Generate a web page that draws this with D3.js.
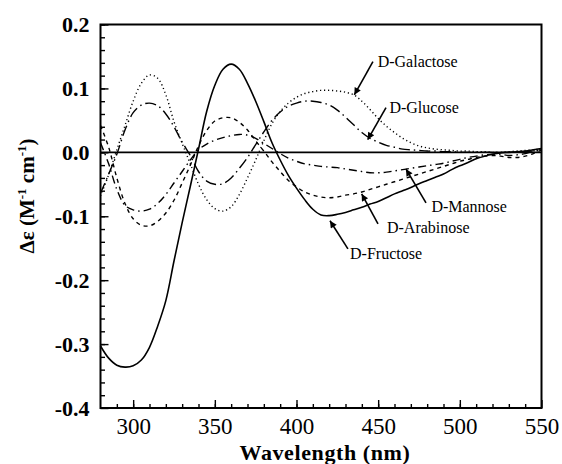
<!DOCTYPE html>
<html>
<head>
<meta charset="utf-8">
<script src="https://cdn.jsdelivr.net/npm/d3@7"></script>
<style>
  body { margin: 0; background: #fff; }
  svg { display: block; }
  text { font-family: "Liberation Serif", "Times New Roman", serif; fill: #000; }
</style>
</head>
<body>
<div id="chart"></div>
<script>
// wavelength grid, 5 nm steps
const wavelengths = d3.range(280, 551, 5);

const fructose = [
  -0.303, -0.322, -0.333, -0.336, -0.334, -0.325, -0.305, -0.272, -0.232, -0.170,
  -0.110, -0.053, 0.005, 0.064, 0.105, 0.130, 0.138, 0.130, 0.108, 0.080,
  0.048, 0.015, -0.012, -0.036, -0.056, -0.074, -0.089, -0.098, -0.099, -0.097,
  -0.094, -0.090, -0.086, -0.081, -0.077, -0.071, -0.065, -0.060, -0.055, -0.049,
  -0.044, -0.039, -0.034, -0.027, -0.021, -0.016, -0.010, -0.006, -0.003, -0.001,
  0.000, 0.001, 0.002, 0.004, 0.006
];
const galactose = [
  -0.068, -0.035, 0.004, 0.042, 0.080, 0.108, 0.121, 0.116, 0.090, 0.048,
  0.014, -0.018, -0.050, -0.074, -0.088, -0.092, -0.085, -0.066, -0.040, -0.012,
  0.018, 0.045, 0.064, 0.077, 0.086, 0.092, 0.095, 0.097, 0.097, 0.096,
  0.094, 0.090, 0.080, 0.067, 0.053, 0.041, 0.031, 0.022, 0.015, 0.010,
  0.007, 0.005, 0.004, 0.003, 0.002, 0.002, 0.001, 0.001, 0.000, 0.000,
  0.001, 0.002, 0.003, 0.004, 0.005
];
const glucose = [
  -0.064, -0.034, -0.003, 0.035, 0.062, 0.074, 0.077, 0.073, 0.060, 0.040,
  0.016, -0.005, -0.030, -0.045, -0.050, -0.049, -0.040, -0.025, -0.008, 0.012,
  0.032, 0.050, 0.063, 0.072, 0.077, 0.080, 0.080, 0.078, 0.074, 0.066,
  0.055, 0.043, 0.031, 0.022, 0.016, 0.011, 0.008, 0.005, 0.004, 0.003,
  0.002, 0.002, 0.001, 0.001, 0.000, 0.000, 0.000, 0.000, 0.000, 0.000,
  0.000, 0.000, 0.001, 0.002, 0.003
];
const arabinose = [
  0.042, 0.008, -0.040, -0.080, -0.104, -0.114, -0.115, -0.108, -0.095, -0.075,
  -0.048, -0.020, 0.010, 0.034, 0.049, 0.054, 0.054, 0.047, 0.035, 0.018,
  0.002, -0.015, -0.030, -0.044, -0.054, -0.062, -0.067, -0.070, -0.071, -0.070,
  -0.067, -0.065, -0.062, -0.058, -0.054, -0.050, -0.046, -0.042, -0.038, -0.034,
  -0.030, -0.026, -0.022, -0.018, -0.014, -0.011, -0.008, -0.006, -0.005, -0.006,
  -0.008, -0.008, -0.006, -0.002, 0.004
];
const mannose = [
  0.015, -0.018, -0.058, -0.083, -0.090, -0.092, -0.089, -0.080, -0.066, -0.048,
  -0.030, -0.012, 0.004, 0.013, 0.019, 0.023, 0.026, 0.028, 0.027, 0.022,
  0.014, 0.006, -0.002, -0.009, -0.014, -0.018, -0.020, -0.022, -0.023, -0.024,
  -0.026, -0.028, -0.030, -0.032, -0.032, -0.031, -0.029, -0.027, -0.025, -0.023,
  -0.021, -0.019, -0.017, -0.014, -0.011, -0.008, -0.006, -0.004, -0.003, -0.003,
  -0.005, -0.004, -0.002, 0.002, 0.006
];

const xTicks = [300, 350, 400, 450, 500, 550];
const yTicks = [-0.4, -0.3, -0.2, -0.1, 0.0, 0.1, 0.2];
const yTickLabels = ['-0.4', '-0.3', '-0.2', '-0.1', '0.0', '0.1', '0.2'];

const series = [
  { name: 'D-Fructose', values: fructose, dash: null, w: 1.6 },
  { name: 'D-Galactose', values: galactose, dash: '1.2,2.8', w: 1.4 },
  { name: 'D-Glucose', values: glucose, dash: '11,4,1.5,4', w: 1.4 },
  { name: 'D-Arabinose', values: arabinose, dash: '4,4', w: 1.4 },
  { name: 'D-Mannose', values: mannose, dash: '8,4,1.5,4', w: 1.4 },
];

// label text position, arrow tail and arrow tip, in data units
const notes = [
  { name: 'D-Galactose', tx: 449.7, ty: 0.134, ax: 446.8, ay: 0.142, bx: 435.4, by: 0.090 },
  { name: 'D-Glucose', tx: 456.9, ty: 0.062, ax: 454.8, ay: 0.070, bx: 443.6, by: 0.020 },
  { name: 'D-Mannose', tx: 482.6, ty: -0.093, ax: 479.3, ay: -0.079, bx: 467, by: -0.026 },
  { name: 'D-Arabinose', tx: 455.4, ty: -0.126, ax: 449.9, ay: -0.112, bx: 439.9, by: -0.065 },
  { name: 'D-Fructose', tx: 432.8, ty: -0.167, ax: 431.5, ay: -0.151, bx: 420.5, by: -0.107 },
];

const width = 562;
const height = 464;
const margin = { top: 24.5, right: 20.5, bottom: 56, left: 100.5 };

const svg = d3.select('#chart')
  .append('svg')
  .attr('width', width)
  .attr('height', height);

const x = d3.scaleLinear()
  .domain([280, 550])
  .range([margin.left, width - margin.right]);

const y = d3.scaleLinear()
  .domain([-0.4, 0.2])
  .range([height - margin.bottom, margin.top]);

// minor ticks first
svg.append('g')
  .attr('transform', `translate(0, ${y(-0.4)})`)
  .call(d3.axisBottom(x).tickValues(d3.range(290, 550, 10)).tickSize(-4).tickFormat(''))
  .call(g => g.select('.domain').remove());

svg.append('g')
  .attr('transform', `translate(${x(280)}, 0)`)
  .call(d3.axisLeft(y).tickValues(d3.range(-0.38, 0.2, 0.02)).tickSize(-4.5).tickFormat(''))
  .call(g => g.select('.domain').remove());

// major ticks with labels
const xAxis = svg.append('g')
  .attr('transform', `translate(0, ${y(-0.4)})`)
  .call(d3.axisBottom(x).tickValues(xTicks).tickSize(-8).tickPadding(9));
xAxis.select('.domain').remove();
xAxis.selectAll('text')
  .attr('font-size', 23)
  .attr('font-family', '"Liberation Serif", serif')
  .attr('dy', '0.72em');

const yAxis = svg.append('g')
  .attr('transform', `translate(${x(280)}, 0)`)
  .call(d3.axisLeft(y).tickValues(yTicks).tickSize(-8).tickPadding(11)
    .tickFormat((d, i) => yTickLabels[i]));
yAxis.select('.domain').remove();
yAxis.selectAll('text')
  .attr('font-size', 22)
  .attr('font-weight', 'bold')
  .attr('font-family', '"Liberation Serif", serif');

svg.selectAll('.tick line').attr('stroke', '#000').attr('stroke-width', 1.4);

// frame
svg.append('rect')
  .attr('x', x(280))
  .attr('y', y(0.2))
  .attr('width', x(550) - x(280))
  .attr('height', y(-0.4) - y(0.2))
  .attr('fill', 'none')
  .attr('stroke', '#000')
  .attr('stroke-width', 2);

// zero line
svg.append('line')
  .attr('x1', x(280)).attr('x2', x(550))
  .attr('y1', y(0)).attr('y2', y(0))
  .attr('stroke', '#000')
  .attr('stroke-width', 1.6);

const line = d3.line()
  .x((d, i) => x(wavelengths[i]))
  .y(d => y(d))
  .curve(d3.curveCatmullRom.alpha(0.5));

svg.append('g')
  .selectAll('path')
  .data(series)
  .join('path')
  .attr('d', d => line(d.values))
  .attr('fill', 'none')
  .attr('stroke', '#000')
  .attr('stroke-width', d => d.w)
  .attr('stroke-dasharray', d => d.dash);

// arrows
svg.append('defs').append('marker')
  .attr('id', 'head')
  .attr('viewBox', '0 0 10 10')
  .attr('refX', 10).attr('refY', 5)
  .attr('markerWidth', 11).attr('markerHeight', 7)
  .attr('markerUnits', 'userSpaceOnUse')
  .attr('orient', 'auto')
  .append('path')
  .attr('d', 'M0,0 L10,5 L0,10 Z')
  .attr('fill', '#000');

svg.append('g')
  .selectAll('line')
  .data(notes)
  .join('line')
  .attr('x1', d => x(d.ax)).attr('y1', d => y(d.ay))
  .attr('x2', d => x(d.bx)).attr('y2', d => y(d.by))
  .attr('stroke', '#000')
  .attr('stroke-width', 1.6)
  .attr('marker-end', 'url(#head)');

svg.append('g')
  .selectAll('text')
  .data(notes)
  .join('text')
  .attr('x', d => x(d.tx))
  .attr('y', d => y(d.ty))
  .attr('font-size', 16)
  .text(d => d.name);

// axis titles
svg.append('text')
  .attr('x', 325)
  .attr('y', 460)
  .attr('text-anchor', 'middle')
  .attr('font-size', 22)
  .attr('letter-spacing', 0.6)
  .attr('font-weight', 'bold')
  .text('Wavelength (nm)');

const yTitle = svg.append('text')
  .attr('transform', 'translate(34, 196) rotate(-90)')
  .attr('text-anchor', 'middle')
  .attr('font-size', 21)
  .attr('font-weight', 'bold');
yTitle.append('tspan').text('\u0394\u03b5 (M');
yTitle.append('tspan').attr('font-size', 13).attr('dy', -8).text('-1');
yTitle.append('tspan').attr('dy', 8).text(' cm');
yTitle.append('tspan').attr('font-size', 13).attr('dy', -8).text('-1');
yTitle.append('tspan').attr('dy', 8).text(')');
</script>
</body>
</html>
